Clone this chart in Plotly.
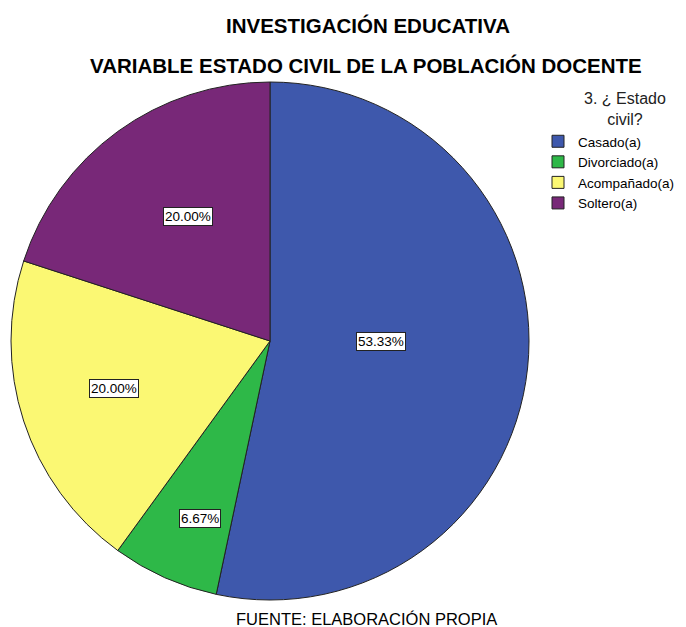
import math
import plotly.graph_objects as go

# Data
categories = ["Casado(a)", "Divorciado(a)", "Acompañado(a)", "Soltero(a)"]
percentages = [53.33, 6.67, 20.00, 20.00]
slice_colors = ["#3E58AC", "#2EB848", "#FBF873", "#782878"]

W, H = 686, 627
FONT = "Liberation Sans, Arial"
# pie geometry in pixels (center and radius)
cx, cy, rad = 270, 341, 259
# where each percent box sits: fraction of radius, and nudge (deg) off the mid angle
label_r = [0.43, 0.735, 0.63, 0.577]
label_nudge = [-5.5, -2.4, 1.0, 2.7]

fig = go.Figure()
fig.add_trace(go.Pie(
    labels=categories, values=percentages,
    sort=False, direction="clockwise", rotation=0,
    marker=dict(colors=slice_colors, line=dict(color="#222222", width=1)),
    textinfo="none", hoverinfo="label+percent",
    domain=dict(x=[(cx - rad) / W, (cx + rad) / W],
                y=[1 - (cy + rad) / H, 1 - (cy - rad) / H]),
))

# percent boxes placed around each slice's mid angle
total = sum(percentages)
start = 0.0
for val, rf, nudge in zip(percentages, label_r, label_nudge):
    mid = (start + val / 2) / total * 2 * math.pi + math.radians(nudge)
    start += val
    px = cx + math.sin(mid) * rad * rf
    py = cy - math.cos(mid) * rad * rf
    fig.add_annotation(
        x=px / W, y=1 - py / H, xref="paper", yref="paper",
        xanchor="center", yanchor="middle",
        text=f"{val:.2f}%", showarrow=False,
        font=dict(family=FONT, size=13.5, color="black"),
        bgcolor="white", bordercolor="#222222", borderwidth=1, borderpad=1,
    )


def add_text(text, x, y, size, bold=False, color="black"):
    fig.add_annotation(x=x / W, y=1 - y / H, xref="paper", yref="paper",
                       xanchor="center", yanchor="middle", align="center",
                       text=f"<b>{text}</b>" if bold else text, showarrow=False,
                       font=dict(family=FONT, size=size, color=color))


add_text("INVESTIGACIÓN EDUCATIVA", 368, 25, 20.5, bold=True)
add_text("VARIABLE ESTADO CIVIL DE LA POBLACIÓN DOCENTE", 366, 65, 20.5, bold=True)
add_text("FUENTE: ELABORACIÓN PROPIA", 366, 619, 16.5)
# legend heading
add_text("3. ¿ Estado<br>civil?", 625, 109, 16, color="#222222")

fig.update_layout(
    width=W, height=H,
    margin=dict(l=0, r=0, t=0, b=0),
    paper_bgcolor="white",
    font=dict(family=FONT, color="black"),
    showlegend=True,
    legend=dict(
        x=538 / W, y=1 - 126 / H, xanchor="left", yanchor="top",
        bgcolor="rgba(0,0,0,0)", font=dict(size=13.5),
        itemwidth=30, tracegroupgap=0,
    ),
)

fig.write_html("out.html", config={"displayModeBar": False},
               post_script="document.body.style.margin='0';")
